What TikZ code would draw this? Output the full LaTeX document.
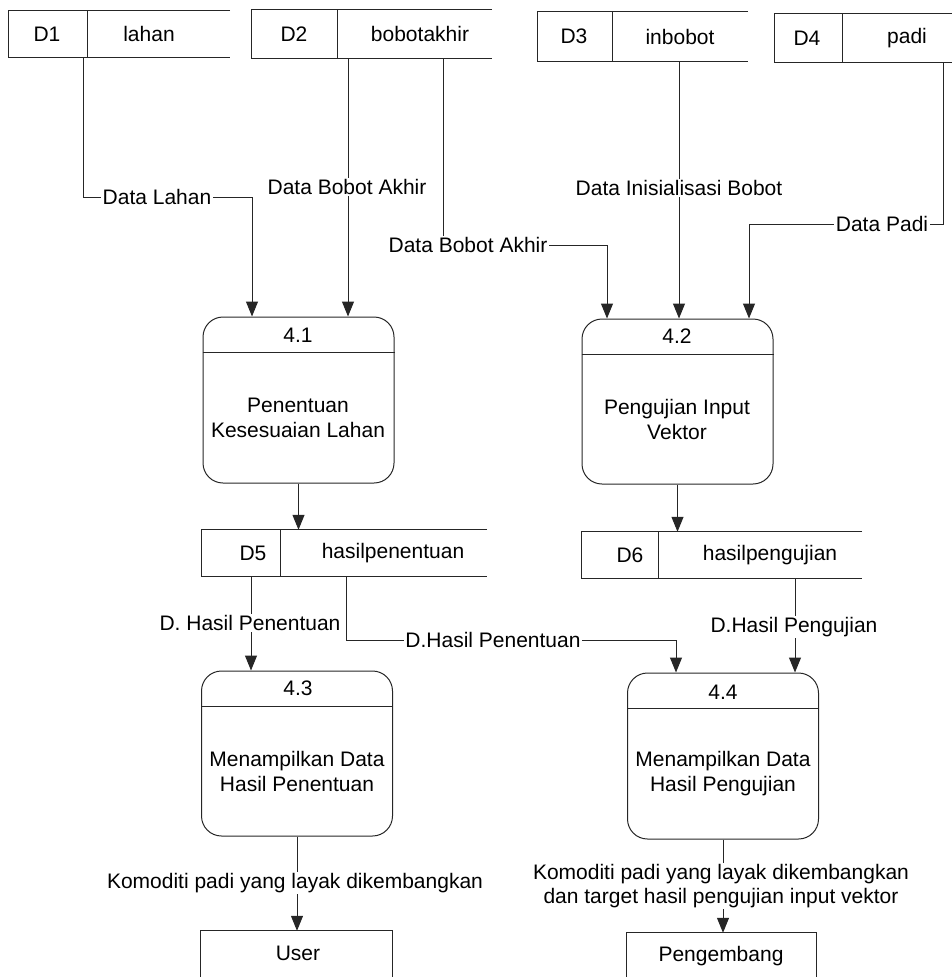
\documentclass[tikz,border=0pt]{standalone}
\usepackage{fontspec}
\setmainfont{Liberation Sans}
\usetikzlibrary{arrows.meta}
\begin{document}
\begin{tikzpicture}[x=1pt,y=-1pt,
  ln/.style={draw=black!85,line width=1pt},
  flow/.style={ln,-{Triangle[width=12pt,length=15pt]}},
  proc/.style={ln,rounded corners=20pt,minimum width=191pt,minimum height=166pt,inner sep=0pt},
  lbl/.style={fill=white,inner sep=1.5pt,font=\fontsize{21}{24}\selectfont,align=center},
  txt/.style={inner sep=0pt,font=\fontsize{21}{25}\selectfont,align=center},
  box/.style={inner sep=0pt}]
\useasboundingbox (0,0) rectangle (951,977);
\newcommand\mystore[9]{%
  \node[box,minimum width={#4-#2},minimum height={#5-#3}] (d#1) at ({(#2+#4)/2},{(#3+#5)/2}) {};
  \draw[ln] (d#1.north east) -- (d#1.north west) -- (d#1.south west) -- (d#1.south east);
  \draw[ln] (#6,#3) -- (#6,#5);
  \node[txt] at (#7,{(#3+#5)/2}) {D#1};
  \node[txt] at (#8,{(#3+#5)/2}) {#9};
}
% data stores
\mystore{1}{9}{11}{230}{57}{87}{47}{149}{lahan}
\mystore{2}{252}{10}{492}{58}{337}{294}{420}{bobotakhir}
\mystore{3}{538}{12}{748}{61}{612}{574}{680}{inbobot}
\mystore{4}{775}{14}{960}{62}{842}{807}{907}{padi}
\mystore{5}{202}{530}{487}{576}{280}{253}{393}{hasilpenentuan}
\mystore{6}{582}{532}{862}{578}{658}{630}{770}{hasilpengujian}

% processes
\node[proc] (p41) at (298.5,400) {};
\node[proc,minimum height=165pt] (p42) at (677.5,401.5) {};
\node[proc,minimum height=165pt] (p43) at (297,753.5) {};
\node[proc] (p44) at (723,756) {};
\foreach \p in {p41,p42,p43,p44}{
  \draw[ln] ([yshift=-36pt]\p.north west) -- ([yshift=-36pt]\p.north east);
}
\node[txt] at (298,335) {4.1};
\node[txt] at (298,417.5) {Penentuan\\Kesesuaian Lahan};
\node[txt] at (677,336) {4.2};
\node[txt] at (677,419.5) {Pengujian Input\\Vektor};
\node[txt] at (298,688) {4.3};
\node[txt] at (297,771) {Menampilkan Data\\Hasil Penentuan};
\node[txt] at (723,692) {4.4};
\node[txt] at (723,774) {Menampilkan Data\\Hasil Pengujian};

% external entities
\node[box,minimum width=191pt,minimum height=60pt] (user) at (296.5,961) {};
\draw[ln] (user.south west) -- (user.north west) -- (user.north east) -- (user.south east);
\node[txt] at (298,953) {User};
\node[box,minimum width=189pt,minimum height=60pt] (peng) at (721.5,963) {};
\draw[ln] (peng.south west) -- (peng.north west) -- (peng.north east) -- (peng.south east);
\node[txt] at (721,956) {Pengembang};

% helper coordinates
\coordinate (a1) at (83,197);
\coordinate (a2) at (252,197);
\coordinate (b1) at (348,0);
\coordinate (c1) at (443,245);
\coordinate (c2) at (607,245);
\coordinate (e1) at (679,0);
\coordinate (f1) at (943,224);
\coordinate (f2) at (749,224);
\coordinate (g1) at (251,0);
\coordinate (h1) at (346,640);
\coordinate (h2) at (676,640);
\coordinate (k1) at (795,0);

% flows
\draw[flow] (d1.south -| a1) -- (a1) -- (a2) -- (p41.north -| a2);
\node[lbl] at (157,197) {Data Lahan};

\draw[flow] (d2.south -| b1) -- (p41.north -| b1);
\node[lbl] at (347,187) {Data Bobot Akhir};

\draw[flow] (d2.south -| c1) -- (c1) -- (c2) -- (p42.north -| c2);
\node[lbl] at (468,245) {Data Bobot Akhir};

\draw[flow] (d3.south -| e1) -- (p42.north -| e1);
\node[lbl] at (679,188) {Data Inisialisasi Bobot};

\draw[flow] (d4.south -| f1) -- (f1) -- (f2) -- (p42.north -| f2);
\node[lbl] at (882,224) {Data Padi};

\draw[flow] (p41.south) -- (p41.south |- d5.north);
\draw[flow] (p42.south) -- (p42.south |- d6.north);

\draw[flow] (d5.south -| g1) -- (p43.north -| g1);
\node[lbl] at (250,623) {D. Hasil Penentuan};

\draw[flow] (d5.south -| h1) -- (h1) -- (h2) -- (p44.north -| h2);
\node[lbl] at (493,640) {D.Hasil Penentuan};

\draw[flow] (d6.south -| k1) -- (p44.north -| k1);
\node[lbl] at (794,627) {D.Hasil Pengujian};

\draw[flow] (p43.south) -- (p43.south |- user.north);
\node[lbl] at (295,883) {Komoditi padi yang layak dikembangkan};

\draw[flow] (p44.south) -- (p44.south |- peng.north);
\node[lbl] at (721,886) {Komoditi padi yang layak dikembangkan\\dan target hasil pengujian input vektor};
\end{tikzpicture}
\end{document}
